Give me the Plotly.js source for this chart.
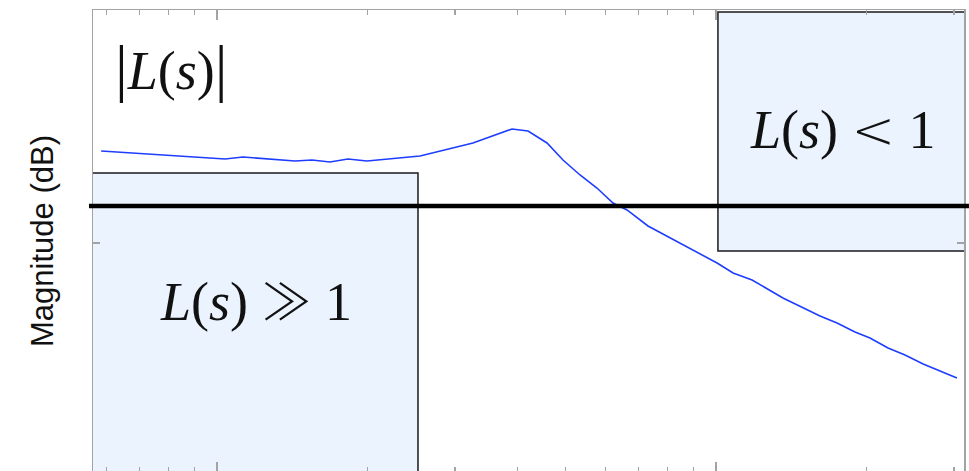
<!DOCTYPE html>
<html>
<head>
<meta charset="utf-8">
<script src="https://cdn.plot.ly/plotly-3.0.1.min.js"></script>
<style>
html,body{margin:0;padding:0;overflow:hidden;background:#fff;}
#chart{width:969px;height:474px;}
</style>
</head>
<body>
<div id="chart"></div>
<script>
// Frequency (rad/s, log scale) and magnitude (dB)
var freq = [0.586, 1.038, 1.127, 1.433, 1.550, 1.684, 1.830, 1.998, 2.552, 3.258, 3.902, 4.201,
            4.585, 4.936, 5.340, 5.773, 6.218, 6.632, 7.307, 8.087, 9.203, 10.05, 10.82, 11.81,
            13.62, 14.87, 16.16, 17.48, 18.99, 20.35, 22.12, 23.92, 26.01, 30.40];
var magDb = [14.86, 12.70, 13.24, 12.16, 12.43, 11.89, 12.70, 12.16, 13.51, 17.03, 20.81, 20.27,
             17.03, 12.43, 8.38, 4.86, 0.81, -1.08, -5.41, -8.65, -12.70, -15.41, -18.11, -20.0,
             -24.86, -27.30, -29.73, -31.62, -34.05, -35.68, -38.38, -40.27, -42.70, -46.49];

var majorTicks = [1, 10];
var minorTicks = [0.6, 0.7, 0.8, 0.9, 2, 3, 4, 5, 6, 7, 8, 9, 20, 30];
var yTicks = [-10];

// regions: [x0, x1, y0(dB), y1(dB)]
var highGainBox = [0.5, 2.528, 8.92, -100];
var lowGainBox = [10.09, 40, 52.4, -12.16];
var unityDb = 0;

var labels = [
  '<span style="font-size:64px">|</span><i>L</i>(<i>s</i>)<span style="font-size:64px">|</span>',
  '<i>L</i>(<i>s</i>) <span style="font-family:\'DejaVu Sans\';font-weight:200;font-size:52px">&lt;</span> 1',
  '<i>L</i>(<i>s</i>) <span style="font-family:\'Noto Sans CJK JP\';font-weight:300;font-size:50px">≫</span> 1'
];
var labelX = [0.812, 17.97, 1.197];
var labelY = [37.5, 20.5, -24.8];

var boxFill = '#ebf3fe';
var axisGray = '#a3a3a3';

var trace = {
  x: freq, y: magDb, type: 'scatter', mode: 'lines',
  line: {color: '#1f3dff', width: 1.6},
  hoverinfo: 'skip', showlegend: false
};

function box(b) {
  return {type: 'rect', xref: 'x', yref: 'y', x0: b[0], x1: b[1], y0: b[2], y1: b[3],
          fillcolor: boxFill, line: {color: '#1a1a1a', width: 1.5}, layer: 'below'};
}

var shapes = [
  box(highGainBox),
  box(lowGainBox),
  {type: 'line', xref: 'paper', yref: 'y', x0: -0.0046, x1: 1.006, y0: unityDb, y1: unityDb,
   line: {color: '#000', width: 4.5}, layer: 'above'}
];

var annotations = labels.map(function (t, i) {
  return {text: t, x: Math.log10(labelX[i]), y: labelY[i], xref: 'x', yref: 'y',
          showarrow: false, xanchor: 'center', yanchor: 'middle',
          font: {family: 'Liberation Serif, serif', size: 54, color: '#111'}};
});

var layout = {
  width: 969, height: 474,
  margin: {l: 93, r: 5, t: 10, b: 2},
  paper_bgcolor: '#fff', plot_bgcolor: '#fff',
  xaxis: {
    type: 'log', range: [-0.2485, 1.497],
    showgrid: false, zeroline: false,
    showline: true, linecolor: axisGray, linewidth: 1.5, mirror: 'ticks',
    ticks: 'inside', ticklen: 10, tickcolor: axisGray, tickwidth: 1.2,
    tickmode: 'array', tickvals: majorTicks, showticklabels: false,
    minor: {tickmode: 'array', tickvals: minorTicks, ticks: 'inside', ticklen: 5,
            tickcolor: axisGray, tickwidth: 1.2, showgrid: false}
  },
  yaxis: {
    range: [-71.9, 52.97],
    showgrid: false, zeroline: false,
    showline: true, linecolor: axisGray, linewidth: 1.5, mirror: 'ticks',
    ticks: 'inside', ticklen: 7, tickcolor: axisGray, tickwidth: 1.2,
    tickmode: 'array', tickvals: yTicks, showticklabels: false,
    title: {text: 'Magnitude (dB)', standoff: 28,
            font: {family: 'Liberation Sans, Arial, sans-serif', size: 31, color: '#111'}}
  },
  shapes: shapes,
  annotations: annotations
};

Plotly.newPlot('chart', [trace], layout, {staticPlot: true, displayModeBar: false});
</script>
</body>
</html>
